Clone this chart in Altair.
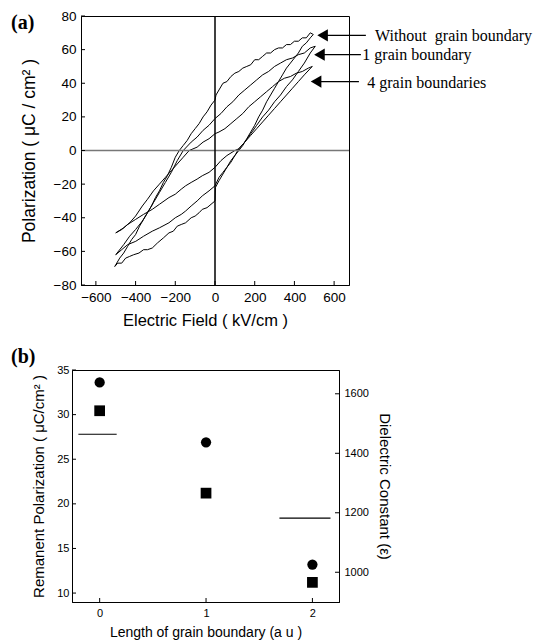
import altair as alt
import pandas as pd

# ---------------- Panel (a): hysteresis loops (E in kV/cm, P in uC/cm2) ----------------
loop_names = ["Without grain boundary", "1 grain boundary", "4 grain boundaries"]

outer_E = [495, 480, 460, 440, 420, 400, 380, 360, 340, 320, 300, 280, 260, 240, 220, 200, 180, 160, 140,
           120, 100, 80, 60, 40, 20, 5, 0, -20, -40, -60, -80, -100, -120, -140, -160, -180, -200, -220,
           -240, -260, -280, -300, -320, -340, -360, -380, -400, -420, -440, -460, -480, -505,
           -490, -470, -450, -430, -410, -383, -360, -340, -316, -290, -260, -232, -210, -190, -170, -148,
           -120, -100, -80, -64, -40, -20, 0, 2, 20, 40, 60, 80, 100, 120, 140, 160, 180, 200, 220, 240,
           260, 280, 300, 320, 340, 360, 380, 400, 420, 440, 460, 480, 495]
outer_P = [69, 70, 67, 67, 65, 65, 63, 63, 61, 61, 60, 58, 58, 56, 54, 54, 51, 50, 49,
           47, 46, 44, 41, 40, 36, 33, 30, 27, 23, 20, 16, 13, 10, 6, 3, 0, -4, -10,
           -15, -19, -24, -28, -33, -37, -41, -45, -50, -53, -57, -61, -64, -69,
           -67, -67, -64, -63, -62, -61, -59, -59, -58, -55, -52, -49, -48, -45, -44, -43,
           -40, -39, -37, -35, -34, -32, -30, -22, -18, -14, -10, -7, -3, 0, 3, 7, 11, 15, 20, 24,
           29, 33, 37, 41, 45, 49, 52, 55, 58, 62, 64, 67, 69]

middle_E = [505, 480, 450, 420, 390, 360, 330, 300, 270, 240, 210, 180, 150, 120, 90, 60, 30, 0, -30, -60,
            -90, -120, -160, -190, -220, -250, -280, -310, -340, -366, -400, -430, -460, -500,
            -470, -440, -399, -360, -316, -280, -232, -200, -170, -148, -120, -90, -64, -30, 0, 20, 40,
            60, 80, 100, 120, 150, 180, 210, 240, 270, 300, 330, 360, 390, 420, 450, 480, 505]
middle_P = [62, 61, 58, 57, 55, 54, 52, 50, 47, 45, 42, 39, 36, 33, 29, 26, 22, 19, 15, 12,
            8, 5, 0, -6, -13, -19, -25, -31, -37, -42, -47, -51, -56, -62,
            -59, -56, -54, -51, -48, -46, -43, -40, -38, -36, -33, -30, -27, -24, -21, -16, -13,
            -10, -6, -3, 1, 5, 10, 15, 20, 24, 29, 33, 38, 42, 47, 52, 58, 62]

inner_E = [490, 470, 440, 410, 380, 350, 320, 290, 260, 230, 200, 170, 140, 110, 80, 50, 20, 0, -30, -60,
           -90, -130, -160, -190, -220, -250, -280, -310, -340, -366, -400, -430, -460, -500,
           -470, -440, -400, -360, -316, -280, -232, -200, -170, -148, -120, -90, -64, -30, 0, 30, 60,
           100, 120, 150, 180, 210, 240, 270, 300, 330, 360, 390, 420, 450, 490]
inner_P = [50, 49, 47, 46, 44, 43, 41, 38, 35, 32, 29, 26, 22, 19, 16, 13, 11, 10, 7, 5,
           2, 0, -4, -8, -12, -16, -20, -24, -29, -33, -39, -43, -46, -49,
           -47, -44, -41, -38, -35, -32, -28, -26, -23, -21, -19, -17, -15, -13, -10, -6, -3,
           0, 1, 5, 9, 13, 17, 21, 25, 29, 33, 37, 41, 45, 50]

xA_ticks = [-600, -400, -200, 0, 200, 400, 600]
yA_ticks = [-80, -60, -40, -20, 0, 20, 40, 60, 80]

ann_text = ["Without\u00a0\u00a0grain boundary", "1 grain boundary", "4 grain boundaries"]
ann_text_E = [806, 742, 767]
ann_text_P = [68, 56.8, 40]
arrow_tip_E = [542, 526, 509]      # centre of arrow heads
arrow_start_E = [560, 545, 530]
arrow_end_E = [760, 735, 725]
arrow_P = [68.5, 57, 41]

# ---------------- Panel (b) ----------------
gb_length = [0, 1, 2]
remanent_pol = [33.6, 26.9, 13.2]
dielectric = [1543, 1266, 966]
dash_x = [-0.2, 1.69]
dash_x2 = [0.16, 2.17]
dash_y = [27.8, 18.4]
xB_ticks = [0, 1, 2]
yBL_ticks = [10, 15, 20, 25, 30, 35]
yBR_ticks = [1000, 1200, 1400, 1600]

# ---------------- build ----------------
W_A, H_A = 268, 269
W_B, H_B = 267, 232
SANS = "Liberation Sans"
SERIF = "Liberation Serif"

loops = pd.concat([
    pd.DataFrame({"E": e, "P": p, "loop": n, "seq": list(range(len(e)))})
    for n, e, p in zip(loop_names, [outer_E, middle_E, inner_E], [outer_P, middle_P, inner_P])
])

ax = dict(domainColor="black", domainWidth=1, labelColor="black", titleColor="black",
          labelFont=SANS, titleFont=SANS, titleFontWeight="normal", ticks=False, grid=False)

xA = alt.Scale(domain=[-675, 675], nice=False, zero=False)
yA = alt.Scale(domain=[-80, 80], nice=False, zero=False)
xA_axis = alt.Axis(values=xA_ticks, labelFontSize=13.5, titleFontSize=16.5,
                   labelPadding=5, titlePadding=9, titleX=124, **ax)
yA_axis = alt.Axis(values=yA_ticks, labelFontSize=13.5, titleFontSize=17.5,
                   labelPadding=5, titlePadding=15, **ax)
xA_title = "Electric Field ( kV/cm )"
yA_title = "Polarization ( \u03bcC / cm\u00b2 )"


def XA(f):
    return alt.X(f, scale=xA, axis=xA_axis, title=xA_title)


def YA(f):
    return alt.Y(f, scale=yA, axis=yA_axis, title=yA_title)


loops_chart = alt.Chart(loops).mark_line(color="black", strokeWidth=1).encode(
    x=XA("E:Q"), y=YA("P:Q"), detail="loop:N", order="seq:Q")

zero_df = pd.DataFrame({"v": [0]})
hzero = alt.Chart(zero_df).mark_rule(color="#777777", strokeWidth=1.6).encode(y=YA("v:Q"))
vzero = alt.Chart(zero_df).mark_rule(color="black", strokeWidth=1.5).encode(x=XA("v:Q"))

arr_df = pd.DataFrame({"tip": arrow_tip_E, "s": arrow_start_E, "e": arrow_end_E, "P": arrow_P})
arrow_lines = alt.Chart(arr_df).mark_rule(color="black", strokeWidth=1.2).encode(
    x=XA("s:Q"), x2="e:Q", y=YA("P:Q"))
arrow_heads = alt.Chart(arr_df).mark_point(shape="triangle-left", filled=True, size=150,
                                           color="black", opacity=1).encode(
    x=XA("tip:Q"), y=YA("P:Q"))

txt_df = pd.DataFrame({"t": ann_text, "E": ann_text_E, "P": ann_text_P})
texts = alt.Chart(txt_df).mark_text(align="left", baseline="middle", font=SERIF, fontSize=16,
                                    color="black").encode(
    x=XA("E:Q"), y=YA("P:Q"), text="t:N")

ticksA_x = alt.Chart(pd.DataFrame({"v": xA_ticks})).mark_rule(color="black").encode(
    x=XA("v:Q"), y=alt.value(H_A), y2=alt.value(H_A - 4))
ticksA_y = alt.Chart(pd.DataFrame({"v": yA_ticks})).mark_rule(color="black").encode(
    y=YA("v:Q"), x=alt.value(0), x2=alt.value(4))

label_a = alt.Chart(pd.DataFrame({"t": ["(a)"]})).mark_text(
    align="left", baseline="top", font=SERIF, fontWeight="bold", fontSize=20, color="black").encode(
    text="t:N", x=alt.value(-70), y=alt.value(-3))

panelA = alt.layer(loops_chart, hzero, vzero, arrow_lines, arrow_heads, texts,
                   ticksA_x, ticksA_y, label_a).properties(width=W_A, height=H_A)

# panel b
xB = alt.Scale(domain=[-0.26, 2.25], nice=False, zero=False)
yBL = alt.Scale(domain=[9, 35], nice=False, zero=False)
yBR = alt.Scale(domain=[900, 1680], nice=False, zero=False)
xB_axis = alt.Axis(values=xB_ticks, format="d", labelFontSize=11, titleFontSize=14,
                   labelPadding=5, titlePadding=7, **ax)
yBL_axis = alt.Axis(values=yBL_ticks, format="d", orient="left", labelFontSize=11, titleFontSize=15,
                    labelPadding=3, titlePadding=10, **ax)
yBR_axis = alt.Axis(values=yBR_ticks, format="d", orient="right", labelFontSize=11, titleFontSize=15,
                    labelPadding=5, titlePadding=8, **ax)
xB_title = "Length of grain boundary (a u )"
yBL_title = "Remanent Polarization ( \u03bcC/cm\u00b2 )"
yBR_title = "Dielectric Constant (\u03b5)"


def XB(f):
    return alt.X(f, scale=xB, axis=xB_axis, title=xB_title)


def YBL(f):
    return alt.Y(f, scale=yBL, axis=yBL_axis, title=yBL_title)


def YBR(f):
    return alt.Y(f, scale=yBR, axis=yBR_axis, title=yBR_title)


dfB = pd.DataFrame({"x": gb_length, "pr": remanent_pol, "eps": dielectric})

circles = alt.Chart(dfB).mark_point(shape="circle", filled=True, size=105, color="black",
                                    opacity=1).encode(x=XB("x:Q"), y=YBL("pr:Q"))
dash_df = pd.DataFrame({"x": dash_x, "x2": dash_x2, "y": dash_y})
dashes = alt.Chart(dash_df).mark_rule(color="black", strokeWidth=1.2).encode(
    x=XB("x:Q"), x2="x2:Q", y=YBL("y:Q"))
ticksB_x = alt.Chart(pd.DataFrame({"v": xB_ticks})).mark_rule(color="black").encode(
    x=XB("v:Q"), y=alt.value(H_B), y2=alt.value(H_B - 4))
ticksB_l = alt.Chart(pd.DataFrame({"v": yBL_ticks})).mark_rule(color="black").encode(
    y=YBL("v:Q"), x=alt.value(0), x2=alt.value(4))
label_b = alt.Chart(pd.DataFrame({"t": ["(b)"]})).mark_text(
    align="left", baseline="top", font=SERIF, fontWeight="bold", fontSize=20, color="black").encode(
    text="t:N", x=alt.value(-61), y=alt.value(-23))
left_layer = alt.layer(circles, dashes, ticksB_x, ticksB_l, label_b)

squares = alt.Chart(dfB).mark_point(shape="square", filled=True, size=115, color="black",
                                    opacity=1).encode(x=XB("x:Q"), y=YBR("eps:Q"))
ticksB_r = alt.Chart(pd.DataFrame({"v": yBR_ticks})).mark_rule(color="black").encode(
    y=YBR("v:Q"), x=alt.value(W_B), x2=alt.value(W_B - 4))
right_layer = alt.layer(squares, ticksB_r)

panelB = alt.layer(left_layer, right_layer).resolve_scale(y="independent").properties(
    width=W_B, height=H_B)


def spacer():
    return alt.Chart(pd.DataFrame({"s": [0]})).mark_point(opacity=0, size=1).encode(
        x=alt.value(0), y=alt.value(0)).properties(
        width=1, height=1, view=alt.ViewBackground(stroke="transparent"))


rowA = alt.hconcat(spacer(), panelA, spacing=0)
rowB = alt.hconcat(spacer(), panelB, spacing=0)

chart = alt.vconcat(rowA, rowB, spacing=16).properties(
    padding={"left": -1, "top": 0, "right": 0, "bottom": 0}
).configure_view(stroke="black", strokeWidth=1)

chart.save("out.html", embed_options={"renderer": "svg", "actions": False})
